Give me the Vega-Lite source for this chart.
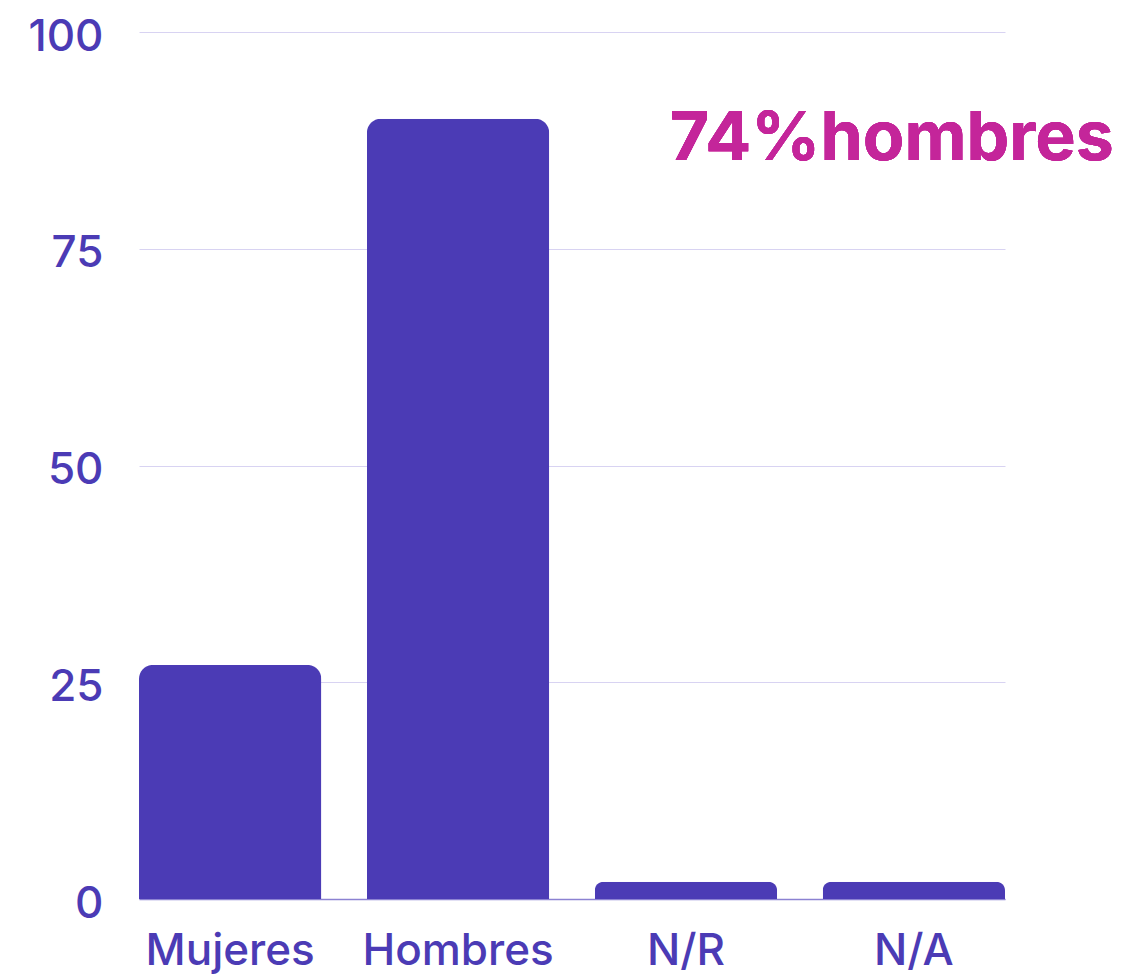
{
  "$schema": "https://vega.github.io/schema/vega-lite/v6.json",
  "autosize": "none",
  "width": 866,
  "height": 867,
  "padding": {"left": 139, "top": 32, "right": 118, "bottom": 76},
  "background": "white",
  "config": {
    "view": {"stroke": null},
    "font": "Inter"
  },
  "data": {
    "values": [
      {"genero": "Mujeres", "n": 27},
      {"genero": "Hombres", "n": 90},
      {"genero": "N/R", "n": 2},
      {"genero": "N/A", "n": 2}
    ]
  },
  "layer": [
    {
      "mark": {"type": "bar", "color": "#4B3BB5", "cornerRadiusTopLeft": 14, "cornerRadiusTopRight": 14},
      "encoding": {
        "x": {
          "field": "genero", "type": "nominal", "sort": null,
          "scale": {"paddingInner": 0.2, "paddingOuter": 0},
          "axis": {
            "title": null, "labelAngle": 0, "ticks": false, "labelLimit": 0,
            "domain": true, "domainColor": "#8C82D2", "domainWidth": 1.5,
            "labelColor": "#4B3BB5", "labelFontSize": 44, "labelFont": "Inter", "labelFontWeight": 500,
            "labelPadding": 30, "grid": false
          }
        },
        "y": {
          "field": "n", "type": "quantitative",
          "scale": {"domain": [0, 100]},
          "axis": {
            "title": null, "values": [0, 25, 50, 75, 100], "ticks": false, "domain": false,
            "labelColor": "#4B3BB5", "labelFontSize": 44, "labelFont": "Inter", "labelFontWeight": 500,
            "labelPadding": 36, "labelOffset": 5, "gridColor": "#D8D3F2", "gridWidth": 1
          }
        }
      }
    },
    {
      "mark": {"type": "text", "text": "74%hombres", "color": "#C4259A", "fontSize": 68, "fontWeight": 700, "font": "Inter", "align": "center", "baseline": "alphabetic", "dx": -22},
      "encoding": {
        "x": {"datum": "N/A", "type": "nominal"},
        "y": {"datum": 85.2, "type": "quantitative"}
      }
    }
  ]
}
